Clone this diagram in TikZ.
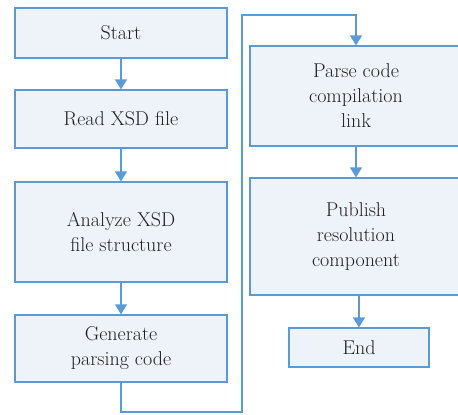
\documentclass[tikz,border=0pt]{standalone}
\usepackage{fontspec}
\usetikzlibrary{arrows.meta}
\definecolor{flowblue}{HTML}{5B9BD5}
\definecolor{boxfill}{HTML}{EEF3FA}
\definecolor{inkgray}{HTML}{231F20}
\tikzset{
	stepbox/.style={draw=flowblue, fill=boxfill, line width=1.2pt, inner sep=0pt,
		align=center, text=inkgray, font=\fontsize{20}{25}\selectfont,
		minimum width=212pt},
	flow/.style={draw=flowblue, line width=1.2pt, -{Triangle[width=12pt,length=10pt]}}
}
\begin{document}
\begin{tikzpicture}[x=1pt, y=-1pt]
		\useasboundingbox (0,0) rectangle (458,415);
		\node[stepbox, minimum height=50pt] (start) at (121,33) {Start};
		\node[stepbox, minimum height=58pt] (read) at (121,119) {Read XSD file};
		\node[stepbox, minimum height=100pt] (analyze) at (121,232) {Analyze XSD\\file structure};
		\node[stepbox, minimum height=67pt] (gen) at (121,348.5) {Generate\\parsing code};
		\node[stepbox, minimum height=100pt] (parse) at (356,96) {Parse code\\compilation\\link};
		\node[stepbox, minimum height=117pt] (publish) at (356,236.5) {Publish\\resolution\\component};
		\node[stepbox, minimum height=39pt, minimum width=140pt] (end) at (359,347.5) {End};
		\coordinate (loopbot) at (242,412);
		\coordinate (looptop) at (242,15);
		\draw[flow] (start) -- (read);
		\draw[flow] (read) -- (analyze);
		\draw[flow] (analyze) -- (gen);
		\draw[flow] (gen.south) |- (loopbot) -- (looptop) -| (parse.north);
		\draw[flow] (parse) -- (publish);
		\draw[flow] (publish.south -| end.north) -- (end);
	\end{tikzpicture}
\end{document}
